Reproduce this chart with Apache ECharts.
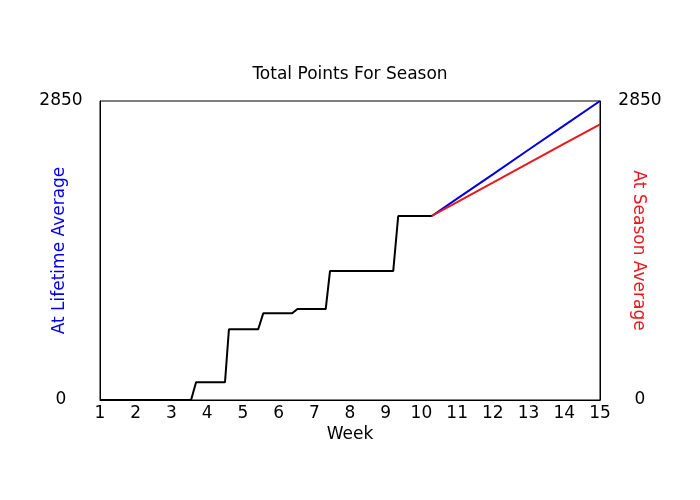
<!DOCTYPE html>
<html>
<head>
<meta charset="utf-8" />
<title>Total Points For Season</title>
<script src="https://cdn.jsdelivr.net/npm/echarts@6/dist/echarts.min.js"></script>
<style>
  html, body { margin: 0; padding: 0; background: #fff; }
  #chart { width: 700px; height: 500px; }
</style>
</head>
<body>
<div id="chart"></div>
<script>
// actual points so far (week, total)
var actualWeeks  = [1, 3.55, 3.69, 4.5, 4.61, 5.43, 5.57, 6.38, 6.53, 7.32, 7.44, 9.21, 9.35, 10.29];
var actualPoints = [0, 0,    169,  169, 674,  674,  826,  826,  867,  867,  1229, 1229, 1754, 1754];

// projections from week 10.29 on
var projWeeks    = [10.29, 11,   12,   13,   14,   15];
var lifetimeProj = [1754,  1919, 2150, 2385, 2617, 2850];
var seasonProj   = [1754,  1886, 2071, 2257, 2443, 2628];

var yMax = 2850;

function pairs(xs, ys) {
    var out = [];
    for (var i = 0; i < xs.length; i++) out.push([xs[i], ys[i]]);
    return out;
}

var chart = echarts.init(document.getElementById('chart'), null, {renderer: 'canvas'});

var FONT = 'DejaVu Sans, Verdana, sans-serif';
var labelFont = {color: '#000', fontSize: 17, fontFamily: FONT};
function plain(v) { return String(v); }

chart.setOption({
    animation: false,
    title: {
        text: 'Total Points For Season',
        left: 'center',
        top: 61,
        textStyle: {color: '#000', fontSize: 17, fontWeight: 'normal', fontFamily: FONT}
    },
    grid: {left: 100, right: 100, top: 101, bottom: 100, show: true, borderColor: '#000', borderWidth: 1},
    xAxis: {
        type: 'value', min: 1, max: 15, interval: 1,
        name: 'Week', nameLocation: 'middle', nameGap: 26, nameMoveOverlap: false,
        nameTextStyle: labelFont,
        axisLine: {lineStyle: {color: '#000'}},
        axisTick: {show: false},
        splitLine: {show: false},
        axisLabel: Object.assign({margin: 5, formatter: plain}, labelFont)
    },
    yAxis: [{
        type: 'value', min: 0, max: yMax, interval: yMax, position: 'left',
        name: 'At Lifetime Average', nameLocation: 'middle', nameGap: 32, nameRotate: 90, nameMoveOverlap: false,
        nameTextStyle: Object.assign({}, labelFont, {color: '#0000ee'}),
        axisLine: {show: true, lineStyle: {color: '#000'}},
        axisTick: {show: false},
        splitLine: {show: false},
        axisLabel: Object.assign({margin: 39, align: 'center', formatter: plain}, labelFont)
    }, {
        type: 'value', min: 0, max: yMax, interval: yMax, position: 'right',
        name: 'At Season Average', nameLocation: 'middle', nameGap: 30, nameRotate: -90, nameMoveOverlap: false,
        nameTextStyle: Object.assign({}, labelFont, {color: '#e8181c'}),
        axisLine: {show: true, lineStyle: {color: '#000'}},
        axisTick: {show: false},
        splitLine: {show: false},
        axisLabel: Object.assign({margin: 40, align: 'center', formatter: plain}, labelFont)
    }],
    series: [{
        type: 'line', name: 'Lifetime', data: pairs(projWeeks, lifetimeProj),
        showSymbol: false, lineStyle: {color: '#0000dd', width: 2}
    }, {
        type: 'line', name: 'Season', data: pairs(projWeeks, seasonProj),
        showSymbol: false, lineStyle: {color: '#e8181c', width: 2}
    }, {
        type: 'line', name: 'Actual', data: pairs(actualWeeks, actualPoints),
        showSymbol: false, lineStyle: {color: '#000', width: 2}
    }]
});
</script>
</body>
</html>
